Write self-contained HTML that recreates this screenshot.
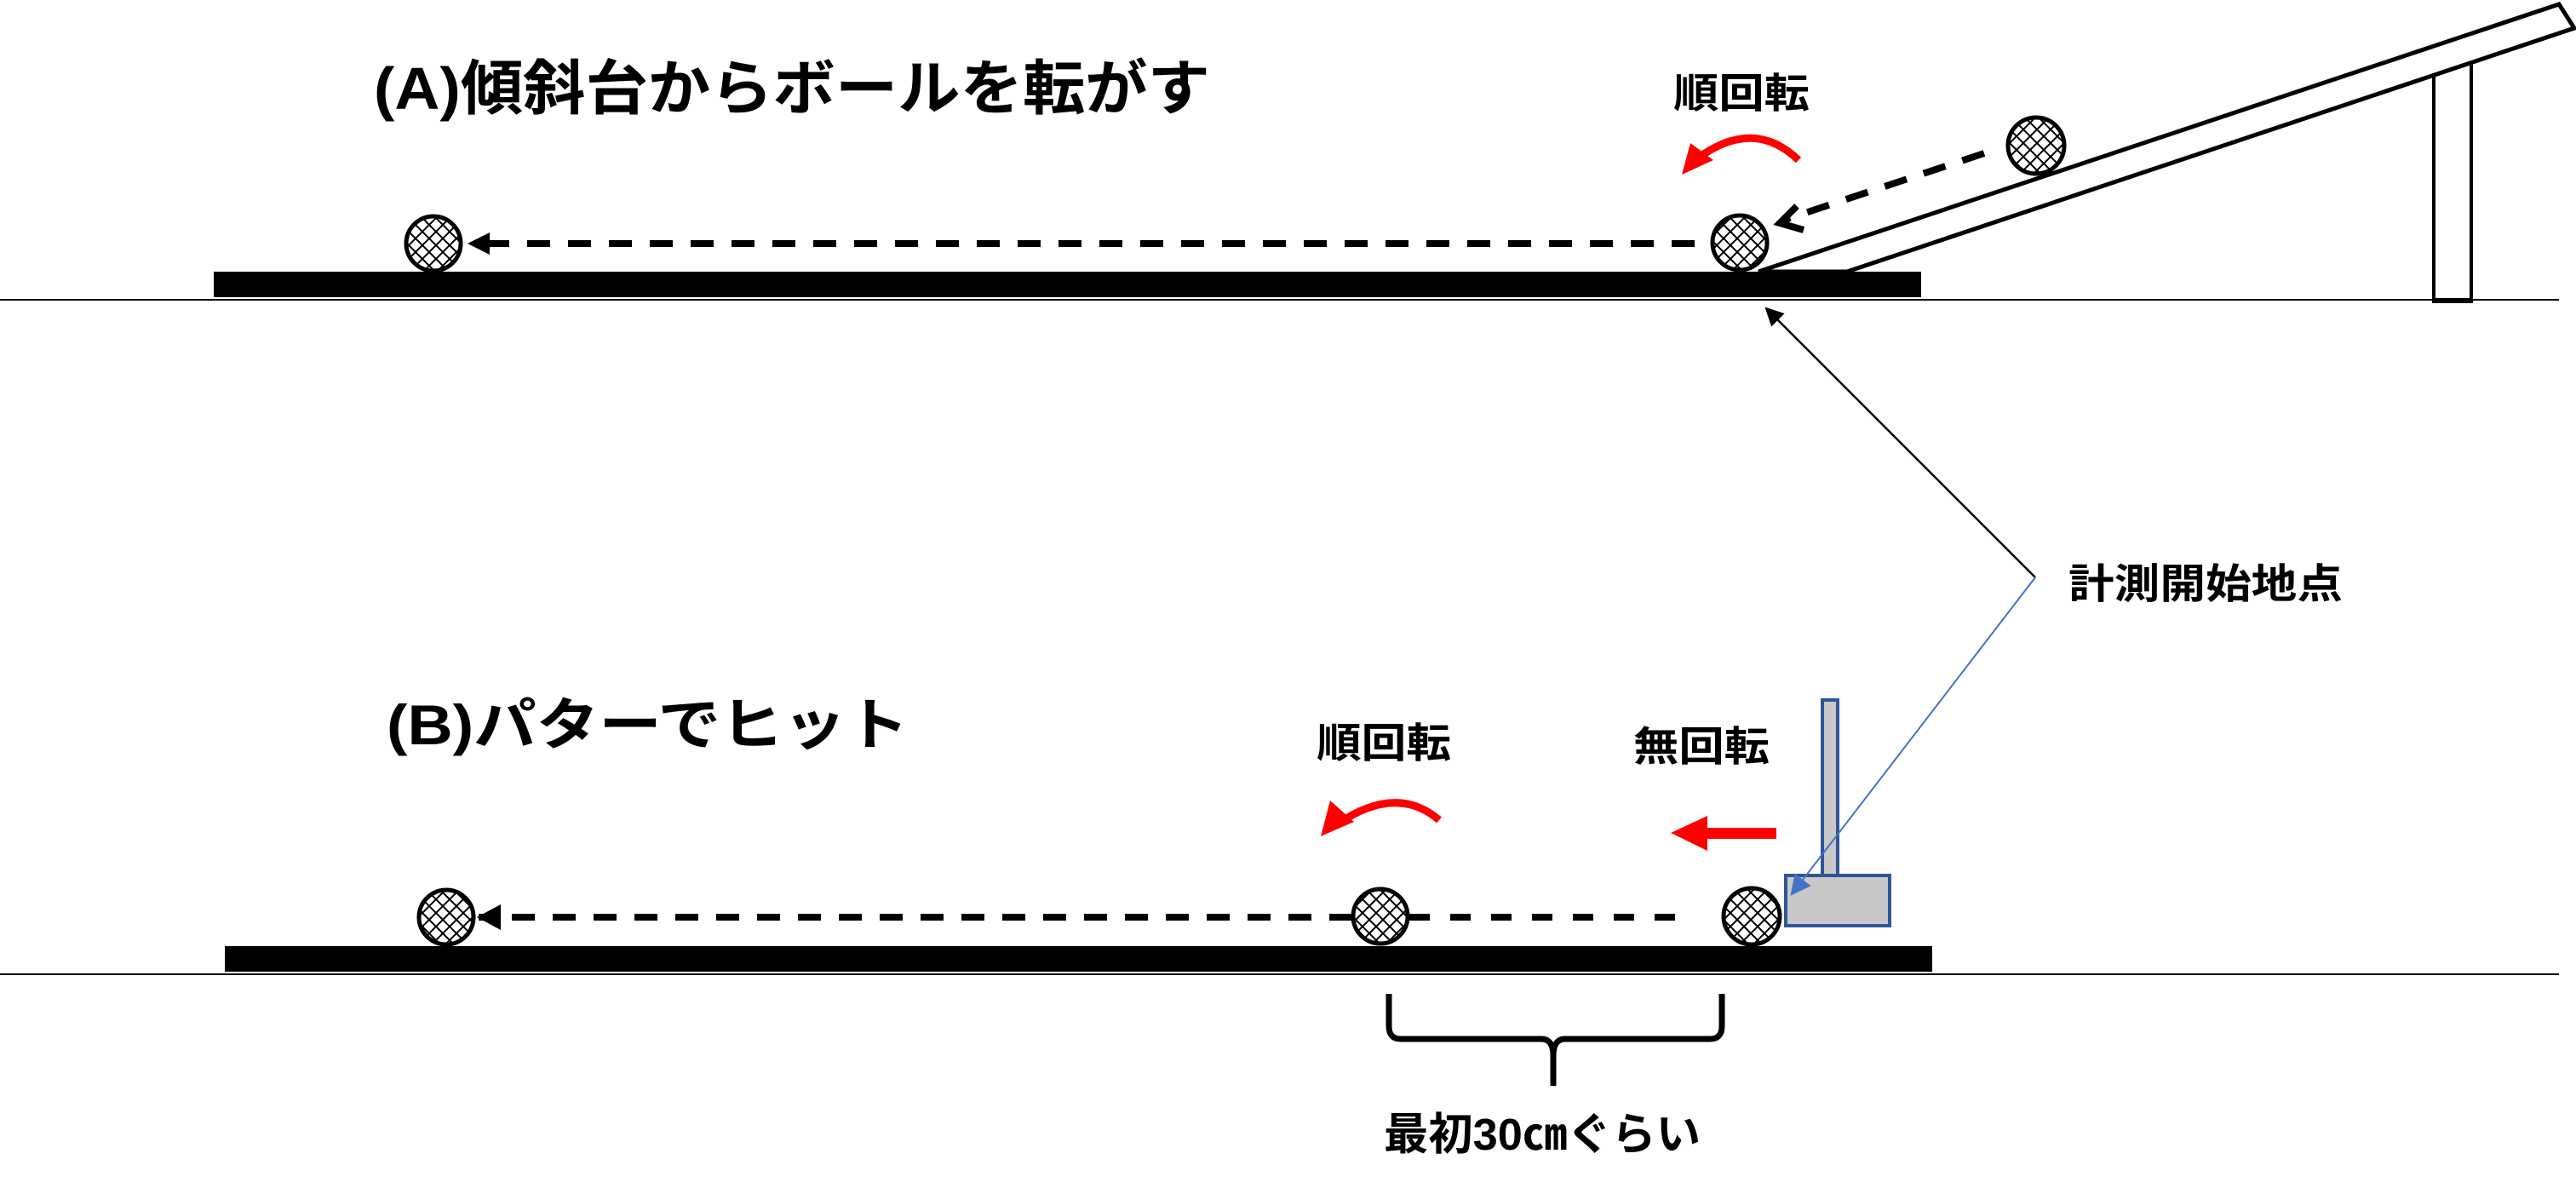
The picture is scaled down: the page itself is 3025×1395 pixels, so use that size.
<!DOCTYPE html>
<html><head><meta charset="utf-8"><style>
html,body{margin:0;padding:0;background:#fff;}
svg{display:block;}
text{font-family:"Liberation Sans","Noto Sans CJK JP",sans-serif;font-weight:bold;fill:#000;}
</style></head><body>
<svg width="3025" height="1395" viewBox="0 0 3025 1395" xmlns="http://www.w3.org/2000/svg">
<defs>
<pattern id="hx" width="16" height="16" patternUnits="userSpaceOnUse">
<rect width="16" height="16" fill="#fff"/>
<path d="M0 0L16 16M16 0L0 16" stroke="#000" stroke-width="2"/>
</pattern>
<marker id="ah2" viewBox="0 0 10 10" refX="9" refY="5" markerWidth="22" markerHeight="22" markerUnits="userSpaceOnUse" orient="auto"><path d="M0 0L10 5L0 10z" fill="#000"/></marker>
<marker id="ah3" viewBox="0 0 10 10" refX="9" refY="5" markerWidth="24" markerHeight="24" markerUnits="userSpaceOnUse" orient="auto"><path d="M0 0L10 5L0 10z" fill="#4472c4"/></marker>
</defs>

<line x1="0" y1="352" x2="3005" y2="352" stroke="#000" stroke-width="2"/>
<line x1="0" y1="1144" x2="3005" y2="1144" stroke="#000" stroke-width="2"/>

<text x="439" y="128" font-size="70" textLength="982" lengthAdjust="spacingAndGlyphs">(A)傾斜台からボールを転がす</text>
<rect x="251" y="319" width="2005" height="30" fill="#000"/>
<!-- support (drawn first) -->
<rect x="2858" y="60" width="44" height="294" fill="#fff" stroke="#000" stroke-width="4"/>
<rect x="2856" y="350" width="48" height="6" fill="#000"/>
<!-- ramp -->
<polygon points="2065,319 3005,5 3023,33 2169,319" fill="#fff" stroke="#000" stroke-width="5"/>
<circle cx="509" cy="286" r="32" fill="url(#hx)" stroke="#000" stroke-width="5"/>
<circle cx="2043" cy="285" r="32" fill="url(#hx)" stroke="#000" stroke-width="5"/>
<circle cx="2391" cy="171" r="33" fill="url(#hx)" stroke="#000" stroke-width="5"/>
<line x1="1990" y1="286" x2="575" y2="286" stroke="#000" stroke-width="8" stroke-dasharray="27 21"/>
<polygon points="549,286 575,273 575,299" fill="#000"/>
<line x1="2330" y1="180" x2="2096" y2="258" stroke="#000" stroke-width="8" stroke-dasharray="27 21"/>
<path d="M2110 242 L2090 262 L2118 270" fill="none" stroke="#000" stroke-width="8"/>
<path d="M2112 188 Q2060 138 1995 185" fill="none" stroke="#f00" stroke-width="9"/>
<polygon points="1975,205 1985,168 2012,188" fill="#f00"/>
<text x="1965" y="126" font-size="48" textLength="160" lengthAdjust="spacingAndGlyphs">順回転</text>

<line x1="2390" y1="678" x2="2074" y2="362" stroke="#000" stroke-width="2.5" marker-end="url(#ah2)"/>
<text x="2429" y="702" font-size="48" textLength="322" lengthAdjust="spacingAndGlyphs">計測開始地点</text>

<text x="454" y="874" font-size="66" textLength="613" lengthAdjust="spacingAndGlyphs">(B)パターでヒット</text>
<rect x="264" y="1111" width="2005" height="30" fill="#000"/>
<rect x="2140" y="822" width="18" height="206" fill="#c8c8c8" stroke="#2f5597" stroke-width="4"/>
<rect x="2097" y="1028" width="122" height="59" fill="#c8c8c8" stroke="#2f5597" stroke-width="4"/>
<line x1="2390" y1="678" x2="2104" y2="1050" stroke="#4472c4" stroke-width="2" marker-end="url(#ah3)"/>
<circle cx="524" cy="1077" r="32" fill="url(#hx)" stroke="#000" stroke-width="5"/>
<circle cx="1621" cy="1076" r="32" fill="url(#hx)" stroke="#000" stroke-width="5"/>
<circle cx="2057" cy="1076" r="33" fill="url(#hx)" stroke="#000" stroke-width="5"/>
<line x1="1655" y1="1077" x2="1982" y2="1077" stroke="#000" stroke-width="8" stroke-dasharray="24 24"/>
<line x1="1588" y1="1077" x2="562" y2="1077" stroke="#000" stroke-width="8" stroke-dasharray="27 21"/>
<polygon points="560,1077 588,1062 588,1092" fill="#000"/>
<path d="M1690 963 Q1640 920 1570 968" fill="none" stroke="#f00" stroke-width="9"/>
<polygon points="1551,982 1562,940 1590,965" fill="#f00"/>
<rect x="2005" y="972" width="81" height="13" fill="#f00"/>
<polygon points="1962,978 2005,958 2005,999" fill="#f00"/>
<text x="1546" y="889" font-size="48" textLength="158" lengthAdjust="spacingAndGlyphs">順回転</text>
<text x="1918" y="893" font-size="48" textLength="160" lengthAdjust="spacingAndGlyphs">無回転</text>
<path d="M1631 1167 L1631 1205 Q1631 1220 1645 1220 L1810 1220 Q1824 1220 1824 1240 L1824 1275 M1824 1240 Q1824 1220 1838 1220 L2008 1220 Q2022 1220 2022 1205 L2022 1167" fill="none" stroke="#000" stroke-width="7"/>
<text x="1625" y="1350" font-size="52" textLength="372" lengthAdjust="spacingAndGlyphs">最初30㎝ぐらい</text>
</svg>
</body></html>
